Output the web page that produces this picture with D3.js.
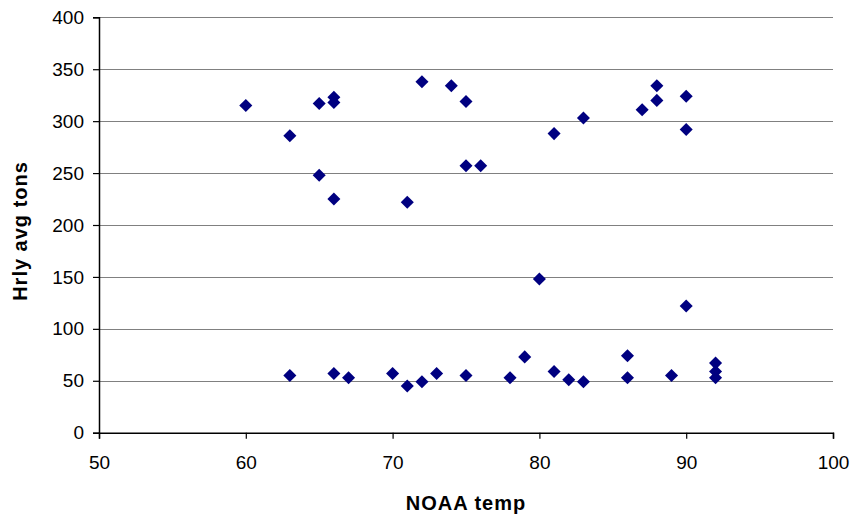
<!DOCTYPE html>
<html>
<head>
<meta charset="utf-8">
<script src="https://cdn.jsdelivr.net/npm/d3@7"></script>
<style>
  html, body { margin: 0; padding: 0; background: #fff; }
  svg { display: block; }
  text { font-family: "Liberation Sans", Arial, sans-serif; fill: #000; }
</style>
</head>
<body>
<svg id="chart" width="851" height="519"></svg>
<script>
// Temperature readings (°F) and hourly average tonnage
const noaaTemp = [60, 63, 65, 65, 66, 66, 66, 72, 74, 75, 71, 75, 76, 81, 83, 87, 88, 88, 90, 90,
                  80, 90, 63, 66, 67, 70, 71, 72, 73, 75, 78, 79, 81, 82, 83, 86, 86, 89, 92, 92, 92];
const hrlyAvgTons = [315, 286, 317, 248, 323, 318, 225, 338, 334, 319, 222, 257, 257, 288, 303, 311, 334, 320, 324, 292,
                     148, 122, 55, 57, 53, 57, 45, 49, 57, 55, 53, 73, 59, 51, 49, 74, 53, 55, 67, 59, 53];
const xTicks = [50, 60, 70, 80, 90, 100];
const yTicks = [0, 50, 100, 150, 200, 250, 300, 350, 400];

const points = noaaTemp.map((t, i) => ({ x: t, y: hrlyAvgTons[i] }));

const svg = d3.select("#chart");
const plot = { left: 99, right: 833, top: 17.3, bottom: 432.7 };

const x = d3.scaleLinear().domain([50, 100]).range([plot.left, plot.right]);
const y = d3.scaleLinear().domain([0, 400]).range([plot.bottom, plot.top]);

// Horizontal gridlines
svg.append("g")
  .selectAll("line")
  .data(yTicks.filter(d => d > 0))
  .join("line")
  .attr("x1", plot.left).attr("x2", plot.right)
  .attr("y1", d => Math.round(y(d)) + 0.5).attr("y2", d => Math.round(y(d)) + 0.5)
  .attr("stroke", "#808080").attr("stroke-width", 1.2);

// Y axis
const yAxis = svg.append("g")
  .attr("transform", `translate(${plot.left},0)`)
  .call(d3.axisLeft(y).tickValues(yTicks).tickSize(6).tickPadding(9).tickFormat(d3.format("d")));
yAxis.select(".domain").attr("stroke", "#000").attr("stroke-width", 1.5);
yAxis.selectAll(".tick line").attr("stroke", "#000").attr("stroke-width", 1.2);
yAxis.selectAll(".tick text").attr("font-size", 19).attr("font-family", "Liberation Sans, Arial, sans-serif");

// X axis
const xAxis = svg.append("g")
  .attr("transform", `translate(0,${plot.bottom})`)
  .call(d3.axisBottom(x).tickValues(xTicks).tickSize(6).tickPadding(17).tickFormat(d3.format("d")));
xAxis.select(".domain").attr("stroke", "#000").attr("stroke-width", 1.5);
xAxis.selectAll(".tick line").attr("stroke", "#000").attr("stroke-width", 1.2);
xAxis.selectAll(".tick text").attr("font-size", 19).attr("font-family", "Liberation Sans, Arial, sans-serif");

// Data points as navy diamonds
const diamond = d3.symbol().type(d3.symbolSquare).size(85);
svg.append("g")
  .selectAll("path")
  .data(points)
  .join("path")
  .attr("d", diamond)
  .attr("transform", d => `translate(${x(d.x)},${y(d.y)}) rotate(45)`)
  .attr("fill", "#000080");

// Axis titles
svg.append("text")
  .attr("x", 466)
  .attr("y", 510)
  .attr("text-anchor", "middle")
  .attr("font-size", 20).attr("font-weight", "bold")
  .attr("letter-spacing", 1)
  .text("NOAA temp");

svg.append("text")
  .attr("transform", `translate(27,231) rotate(-90)`)
  .attr("text-anchor", "middle")
  .attr("font-size", 20).attr("font-weight", "bold")
  .attr("letter-spacing", 1)
  .text("Hrly avg tons");
</script>
</body>
</html>
